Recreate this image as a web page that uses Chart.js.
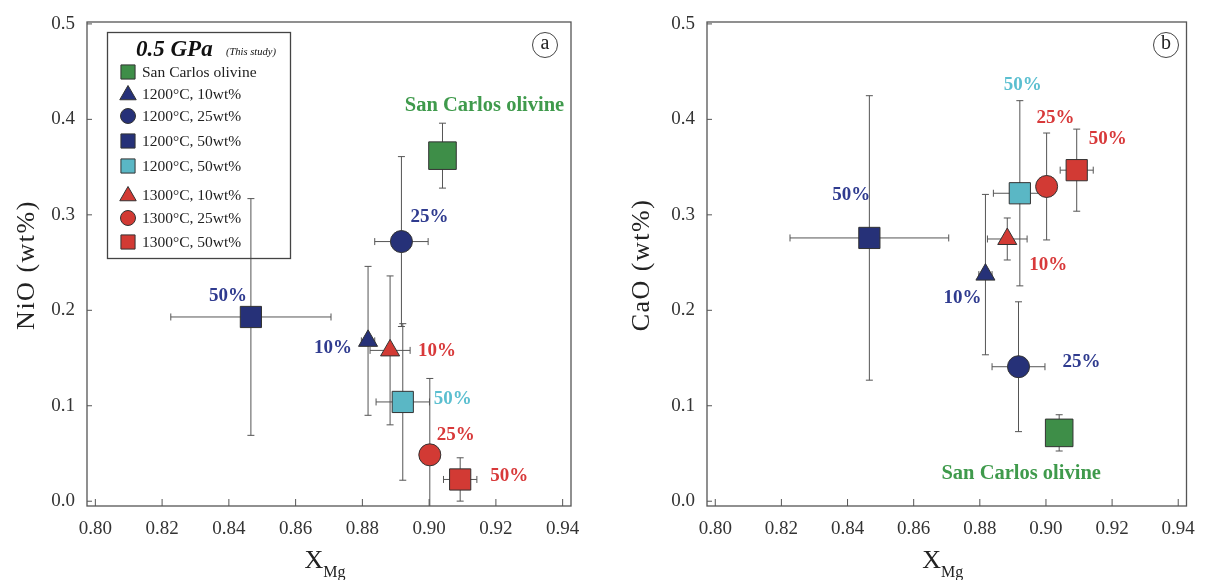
<!DOCTYPE html>
<html>
<head>
<meta charset="utf-8">
<script src="https://cdn.jsdelivr.net/npm/chart.js@4.4.0/dist/chart.umd.min.js"></script>
<style>
  body { margin: 0; background: #fff; }
  #wrap { position: relative; width: 1207px; height: 580px; }
  canvas { position: absolute; top: 0; }
</style>
</head>
<body>
<div id="wrap">
  <canvas id="nio" width="600" height="580" style="left:0"></canvas>
  <canvas id="cao" width="607" height="580" style="left:600px"></canvas>
</div>
<script>
// series (same order in both panels)
const seriesNames = ['San Carlos olivine', '1200°C, 10wt%', '1200°C, 25wt%', '1200°C, 50wt%',
                     '1200°C, 50wt%', '1300°C, 10wt%', '1300°C, 25wt%', '1300°C, 50wt%'];
const seriesShapes = ['rect', 'triangle', 'circle', 'rect', 'rect', 'triangle', 'circle', 'rect'];
const pointLabels = ['San Carlos olivine', '10%', '25%', '50%', '50%', '10%', '25%', '50%'];

// X_Mg and errors
const xMg    = [0.904, 0.8817, 0.8917, 0.8466, 0.8921, 0.8883, 0.9002, 0.9093];
const xMgErr = [0,     0.002,  0.008,  0.024,  0.008,  0.006,  0.003,  0.005];
// NiO (wt%)
const nio    = [0.362, 0.168, 0.272, 0.193, 0.104, 0.158, 0.0486, 0.0228];
const nioErr = [0.034, 0.078, 0.089, 0.124, 0.082, 0.078, 0.080,  0.0227];
// CaO (wt%)
const cao    = [0.0716, 0.2374, 0.1409, 0.2758, 0.3226, 0.2747, 0.3297, 0.3468];
const caoErr = [0.019,  0.084,  0.068,  0.149,  0.097,  0.022,  0.056,  0.043];

const xTicks = [0.80, 0.82, 0.84, 0.86, 0.88, 0.90, 0.92, 0.94];
const yTicks = [0.0, 0.1, 0.2, 0.3, 0.4, 0.5];

const fillColors  = ['#3e8e48', '#263178', '#263178', '#263178', '#5ab7c5', '#d23a34', '#d23a34', '#d23a34'];
const labelColors = ['#3f9a4c', '#2f3b8f', '#2f3b8f', '#2f3b8f', '#5bbfd0', '#d8393a', '#d8393a', '#d8393a'];
const SERIF = '"Liberation Serif", "DejaVu Serif", serif';

function radiusFor(i) {
  if (i === 0) return 19.5;
  return seriesShapes[i] === 'rect' ? 15 : 11;
}

const errorBars = {
  id: 'errorBars',
  beforeDatasetsDraw(chart, args, opts) {
    const ctx = chart.ctx, a = chart.chartArea;
    const xs = chart.scales.x, ys = chart.scales.y;
    ctx.save();
    ctx.beginPath();
    ctx.rect(a.left, a.top, a.right - a.left, a.bottom - a.top);
    ctx.clip();
    ctx.strokeStyle = '#555';
    ctx.lineWidth = 1;
    const cap = 3.5;
    for (let i = 0; i < opts.y.length; i++) {
      const px = xs.getPixelForValue(xMg[i]), py = ys.getPixelForValue(opts.y[i]);
      const ey = opts.yErr[i], ex = xMgErr[i];
      ctx.beginPath();
      if (ey > 0) {
        const t = ys.getPixelForValue(opts.y[i] + ey), b = ys.getPixelForValue(opts.y[i] - ey);
        ctx.moveTo(px, t); ctx.lineTo(px, b);
        ctx.moveTo(px - cap, t); ctx.lineTo(px + cap, t);
        ctx.moveTo(px - cap, b); ctx.lineTo(px + cap, b);
      }
      if (ex > 0) {
        const l = xs.getPixelForValue(xMg[i] - ex), r = xs.getPixelForValue(xMg[i] + ex);
        ctx.moveTo(l, py); ctx.lineTo(r, py);
        ctx.moveTo(l, py - cap); ctx.lineTo(l, py + cap);
        ctx.moveTo(r, py - cap); ctx.lineTo(r, py + cap);
      }
      ctx.stroke();
    }
    ctx.restore();
  }
};

const decorations = {
  id: 'decorations',
  afterDatasetsDraw(chart, args, opts) {
    const ctx = chart.ctx, a = chart.chartArea;
    const xs = chart.scales.x, ys = chart.scales.y;
    ctx.save();
    // frame + inward ticks
    ctx.strokeStyle = '#555';
    ctx.lineWidth = 1.3;
    ctx.strokeRect(a.left, a.top, a.right - a.left, a.bottom - a.top);
    ctx.lineWidth = 1;
    ctx.beginPath();
    xTicks.forEach(v => {
      const p = xs.getPixelForValue(v);
      ctx.moveTo(p, a.bottom); ctx.lineTo(p, a.bottom - 7);
    });
    yTicks.forEach(v => {
      const p = ys.getPixelForValue(v);
      ctx.moveTo(a.left, p); ctx.lineTo(a.left + 5, p);
    });
    ctx.stroke();

    // point labels
    ctx.textAlign = 'center';
    ctx.textBaseline = 'middle';
    for (let i = 0; i < opts.y.length; i++) {
      const px = xs.getPixelForValue(xMg[i]), py = ys.getPixelForValue(opts.y[i]);
      const o = opts.offsets[i];
      ctx.fillStyle = labelColors[i];
      ctx.font = (i === 0 ? 'bold 20.5px ' : 'bold 19px ') + SERIF;
      ctx.fillText(pointLabels[i], px + o[0], py + o[1]);
    }

    // panel letter
    ctx.strokeStyle = '#444';
    ctx.lineWidth = 1;
    ctx.beginPath();
    ctx.arc(opts.letterPos[0], opts.letterPos[1], 12.5, 0, Math.PI * 2);
    ctx.stroke();
    ctx.fillStyle = '#222';
    ctx.font = '20px ' + SERIF;
    ctx.fillText(opts.letter, opts.letterPos[0], opts.letterPos[1] - 1);

    // y title
    ctx.save();
    ctx.translate(opts.yTitleX, 265);
    ctx.rotate(-Math.PI / 2);
    ctx.font = '26px ' + SERIF;
    ctx.letterSpacing = '1.5px';
    ctx.fillStyle = '#222';
    ctx.fillText(opts.yTitle, 0, 0);
    ctx.restore();

    // x title X_Mg
    const cx = (a.left + a.right) / 2;
    ctx.fillStyle = '#222';
    ctx.textAlign = 'left';
    ctx.textBaseline = 'alphabetic';
    ctx.font = '26px ' + SERIF;
    const wX = ctx.measureText('X').width;
    ctx.font = '16px ' + SERIF;
    const wM = ctx.measureText('Mg').width;
    const sx = cx - (wX + wM) / 2 - 4;
    ctx.font = '26px ' + SERIF;
    ctx.fillText('X', sx, 568);
    ctx.font = '16px ' + SERIF;
    ctx.fillText('Mg', sx + wX, 577);

    // legend
    if (opts.legend) {
      ctx.strokeStyle = '#444';
      ctx.lineWidth = 1.3;
      ctx.strokeRect(107.5, 32.5, 183, 226);
      ctx.fillStyle = '#111';
      ctx.font = 'italic bold 23px ' + SERIF;
      ctx.fillText('0.5 GPa', 136, 56);
      ctx.font = 'italic 10.5px ' + SERIF;
      ctx.fillText('(This study)', 226, 55);
      const rows = [72, 94, 116, 141, 166, 195, 218, 242];
      for (let i = 0; i < seriesNames.length; i++) {
        const shape = seriesShapes[i];
        ctx.fillStyle = fillColors[i];
        ctx.strokeStyle = '#333';
        ctx.lineWidth = 1;
        Chart.helpers.drawPoint(ctx, {
          pointStyle: shape,
          radius: shape === 'rect' ? 10 : (shape === 'triangle' ? 9.5 : 7.5),
          rotation: 0, borderWidth: 1
        }, 128, rows[i] + (shape === 'triangle' ? 1 : 0));
        ctx.fillStyle = '#222';
        ctx.font = '15.5px ' + SERIF;
        ctx.textBaseline = 'middle';
        ctx.fillText(seriesNames[i], 142, rows[i] + 1);
      }
    }
    ctx.restore();
  }
};

function makeChart(id, yVals, yErr, yTitle, letter, offsets, opts) {
  const datasets = seriesNames.map((name, i) => ({
    label: name,
    data: [{ x: xMg[i], y: yVals[i] }],
    pointStyle: seriesShapes[i],
    pointRadius: radiusFor(i),
    pointHoverRadius: radiusFor(i),
    backgroundColor: fillColors[i],
    borderColor: '#333',
    borderWidth: 1,
    showLine: false
  }));
  const tickFont = { family: SERIF, size: 19 };
  return new Chart(document.getElementById(id).getContext('2d'), {
    type: 'scatter',
    data: { datasets },
    options: {
      responsive: false,
      animation: false,
      layout: { padding: { left: 0, right: opts.padRight, top: 22, bottom: 0 } },
      plugins: {
        legend: { display: false },
        tooltip: { enabled: false },
        errorBars: { y: yVals, yErr: yErr },
        decorations: {
          y: yVals, offsets, letter, yTitle,
          letterPos: opts.letterPos, yTitleX: opts.yTitleX, legend: opts.legend
        }
      },
      scales: {
        x: {
          type: 'linear', min: 0.7975, max: 0.9425,
          afterBuildTicks: s => { s.ticks = xTicks.map(v => ({ value: v })); },
          afterFit: s => { s.height = 74; },
          grid: { display: false },
          border: { display: false },
          ticks: { font: tickFont, color: '#333', padding: 4, autoSkip: false, maxRotation: 0,
                   callback: v => v.toFixed(2) }
        },
        y: {
          type: 'linear', min: -0.005, max: 0.502,
          afterBuildTicks: s => { s.ticks = yTicks.map(v => ({ value: v })); },
          afterFit: s => { s.width = opts.yWidth; },
          grid: { display: false },
          border: { display: false },
          ticks: { font: tickFont, color: '#333', padding: 4, callback: v => v.toFixed(1) }
        }
      }
    },
    plugins: [errorBars, decorations]
  });
}

makeChart('nio', nio, nioErr, 'NiO (wt%)', 'a',
  [[42, -50], [-35, 7], [28, -24], [-23, -21], [50, -3], [47, 1], [26, -20], [49, -3]],
  { padRight: 29, yWidth: 87, letterPos: [545, 45], yTitleX: 27, legend: true });

makeChart('cao', cao, caoErr, 'CaO (wt%)', 'b',
  [[-38, 41], [-23, 23], [63, -5], [-18, -43], [3, -108], [41, 26], [9, -68], [31, -31]],
  { padRight: 13, yWidth: 107, letterPos: [566, 45], yTitleX: 42, legend: false });
</script>
</body>
</html>
